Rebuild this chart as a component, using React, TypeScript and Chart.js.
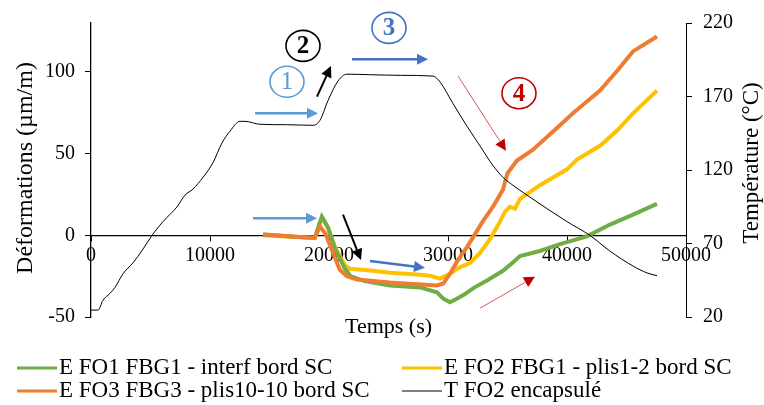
import React, { useEffect, useRef } from "react";
import { Chart, registerables } from "chart.js";

Chart.register(...registerables);

// ---------- data ----------
const seriesLabels = [
  "E FO1 FBG1 - interf bord SC",
  "E FO2 FBG1 - plis1-2 bord SC",
  "E FO3 FBG3 - plis10-10 bord SC",
  "T FO2 encapsulé",
];

const fo1Time = [14450, 16000, 17500, 18800, 19400, 19900, 20500, 21300, 21800, 23000, 25125, 27646, 29074, 29579, 30167, 30700, 31260, 32200, 33276, 34620, 35400, 36049, 37729, 39410, 41679, 43612, 45544, 47561];
const fo1Strain = [0.5, -0.3, -1.0, -1.5, 11.4, 5.0, -8.0, -20.0, -25.0, -28.0, -30.7, -31.9, -34.9, -38.6, -41.0, -39.0, -36.7, -32.0, -27.7, -21.7, -17.0, -12.7, -9.6, -5.4, -0.6, 6.6, 12.7, 19.3];

const fo2Time = [14450, 16000, 17500, 18800, 19400, 19900, 20500, 21300, 21764, 23500, 25125, 27394, 28486, 29326, 30167, 31000, 31847, 32688, 33528, 34368, 34788, 35209, 35629, 36049, 37729, 40000, 40838, 42771, 44200, 45544, 47561];
const fo2Strain = [0, -0.5, -1.2, -1.8, 11.0, 5.0, -7.0, -18.0, -20.5, -21.5, -22.9, -24.0, -24.7, -26.5, -23.5, -19.5, -16.9, -10.8, -2.4, 8.4, 14.5, 17.5, 16.3, 22.3, 30.7, 40.4, 46.4, 54.8, 64.0, 74.7, 88.6];

const fo3Time = [14450, 16000, 17500, 18800, 19250, 19700, 20300, 20900, 21500, 22350, 25100, 27400, 29074, 29600, 30167, 30800, 31595, 32940, 33780, 34620, 35000, 35797, 37141, 39158, 40502, 42771, 44200, 45544, 47561];
const fo3Strain = [0.5, -0.3, -1.0, -1.5, 5.4, 1.0, -10.0, -21.0, -25.0, -27.0, -28.9, -30.0, -30.7, -29.5, -23.5, -15.5, -7.2, 8.7, 17.5, 28.0, 38.0, 45.8, 52.4, 65.7, 74.7, 88.6, 100.6, 112.6, 121.7];

const tempTime = [0, 590, 1008, 1597, 2017, 2689, 3529, 4370, 5126, 6050, 7227, 7899, 8571, 9412, 10252, 11008, 11680, 12520, 12941, 14201, 16500, 18655, 19243, 19915, 20755, 21512, 23500, 26000, 28740, 29327, 30420, 31595, 32688, 33780, 34620, 35460, 36637, 39998, 41930, 43612, 45544, 46720, 47561];
const tempValues = [24.7, 24.7, 31.4, 36.1, 40.1, 49.4, 56.8, 66.2, 75.5, 84.9, 94.9, 102.9, 107.0, 115.0, 125.0, 138.4, 146.4, 153.1, 153.1, 151.1, 150.8, 150.4, 153.8, 167.2, 180.5, 185.2, 184.8, 184.4, 183.9, 179.9, 165.2, 149.8, 136.4, 123.0, 115.0, 109.6, 102.9, 84.9, 75.5, 64.8, 54.7, 50.0, 48.1];

const xTickValues = [0, 10000, 20000, 30000, 40000, 50000];
const strainTickValues = [-50, 0, 50, 100];
const tempTickValues = [20, 70, 120, 170, 220];

// annotations in data coordinates (time, strain)
const annotationArrows = [
  { from: [13781, 74.7], to: [19075, 74.7], color: "#5B9BD5", head: "#5B9BD5", width: 2.5 },
  { from: [13613, 10.5], to: [18991, 10.5], color: "#5B9BD5", head: "#5B9BD5", width: 2.5 },
  { from: [21932, 107.8], to: [28318, 107.8], color: "#4472C4", head: "#4472C4", width: 2.5 },
  { from: [23444, -15.7], to: [28066, -19.9], color: "#4472C4", head: "#4472C4", width: 2.5 },
  { from: [18991, 84.9], to: [20167, 103.6], color: "#000000", head: "#000000", width: 2 },
  { from: [21176, 12.7], to: [22688, -15.1], color: "#000000", head: "#000000", width: 2 },
  { from: [30839, 97.6], to: [34872, 51.8], color: "#D05A5A", head: "#C00000", width: 1 },
  { from: [32688, -44.6], to: [37309, -25.3], color: "#D05A5A", head: "#C00000", width: 1 },
];
const annotationCircles = [
  { at: [16470, 94.0], text: "1", color: "#5B9BD5", bold: false },
  { at: [17815, 116.0], text: "2", color: "#000000", bold: true },
  { at: [25041, 127.0], text: "3", color: "#4472C4", bold: true },
  { at: [35965, 87.0], text: "4", color: "#C00000", bold: true },
];

const seriesColors = ["#70AD47", "#FFC000", "#ED7D31", "#000000"];
const FONT = '"Liberation Serif", "Times New Roman", serif';

function toPoints(xs: number[], ys: number[]) {
  return xs.map((x, i) => ({ x, y: ys[i] }));
}

function drawArrow(ctx: CanvasRenderingContext2D, x1: number, y1: number, x2: number, y2: number, color: string, head: string, width: number) {
  const ang = Math.atan2(y2 - y1, x2 - x1);
  const headLen = 11;
  const headW = 5.5;
  const bx = x2 - headLen * Math.cos(ang);
  const by = y2 - headLen * Math.sin(ang);
  ctx.strokeStyle = color;
  ctx.lineWidth = width;
  ctx.beginPath();
  ctx.moveTo(x1, y1);
  ctx.lineTo(bx, by);
  ctx.stroke();
  ctx.fillStyle = head;
  ctx.beginPath();
  ctx.moveTo(x2, y2);
  ctx.lineTo(bx + headW * Math.sin(ang), by - headW * Math.cos(ang));
  ctx.lineTo(bx - headW * Math.sin(ang), by + headW * Math.cos(ang));
  ctx.closePath();
  ctx.fill();
}

const overlayPlugin = {
  id: "overlay",
  afterDraw(chart: any) {
    const { ctx, chartArea, scales } = chart;
    const xs = scales.x;
    const ys = scales.y;
    ctx.save();
    // arrows
    for (const a of annotationArrows) {
      drawArrow(
        ctx,
        xs.getPixelForValue(a.from[0]), ys.getPixelForValue(a.from[1]),
        xs.getPixelForValue(a.to[0]), ys.getPixelForValue(a.to[1]),
        a.color, a.head, a.width
      );
    }
    // circled numbers
    for (const c of annotationCircles) {
      const cx = xs.getPixelForValue(c.at[0]);
      const cy = ys.getPixelForValue(c.at[1]);
      ctx.strokeStyle = c.color;
      ctx.lineWidth = 1.6;
      ctx.beginPath();
      ctx.ellipse(cx, cy, 17, 15.5, 0, 0, Math.PI * 2);
      ctx.stroke();
      ctx.fillStyle = c.color;
      ctx.font = `${c.bold ? "bold " : ""}25px ${FONT}`;
      ctx.textAlign = "center";
      ctx.textBaseline = "middle";
      ctx.fillText(c.text, cx, cy + 1);
    }
    // axis titles
    ctx.fillStyle = "#000";
    ctx.textAlign = "center";
    ctx.textBaseline = "middle";
    ctx.font = `22px ${FONT}`;
    ctx.fillText("Temps (s)", (chartArea.left + chartArea.right) / 2, chartArea.bottom + 10);
    const midY = (chartArea.top + chartArea.bottom) / 2;
    ctx.save();
    ctx.translate(26, midY - 2);
    ctx.rotate(-Math.PI / 2);
    ctx.font = `24px ${FONT}`;
    ctx.fillText("Déformations (µm/m)", 0, 0);
    ctx.restore();
    ctx.save();
    ctx.translate(752, midY - 7);
    ctx.rotate(-Math.PI / 2);
    ctx.font = `23px ${FONT}`;
    ctx.fillText("Température (°C)", 0, 0);
    ctx.restore();
    // legend
    const cols = [17, 402];
    const rows = [chartArea.bottom + 51, chartArea.bottom + 74];
    ctx.font = `23px ${FONT}`;
    ctx.textAlign = "left";
    ctx.textBaseline = "middle";
    seriesLabels.forEach((label, i) => {
      const x = cols[i % 2];
      const y = rows[Math.floor(i / 2)];
      ctx.strokeStyle = seriesColors[i];
      ctx.lineWidth = i === 3 ? 1 : 3;
      ctx.beginPath();
      ctx.moveTo(x, y);
      ctx.lineTo(x + 40, y);
      ctx.stroke();
      ctx.fillStyle = "#000";
      ctx.fillText(label, x + 42, y);
    });
    ctx.restore();
  },
};

export default function App() {
  const canvasRef = useRef<HTMLCanvasElement | null>(null);

  useEffect(() => {
    document.body.style.margin = "0";
    const canvas = canvasRef.current;
    if (!canvas) return;
    const tickFont = { family: FONT, size: 20 };
    const chart = new Chart(canvas, {
      type: "line",
      data: {
        datasets: [
          { label: seriesLabels[0], data: toPoints(fo1Time, fo1Strain), borderColor: seriesColors[0], backgroundColor: seriesColors[0], borderWidth: 4, pointRadius: 0, yAxisID: "y", order: 2 },
          { label: seriesLabels[1], data: toPoints(fo2Time, fo2Strain), borderColor: seriesColors[1], backgroundColor: seriesColors[1], borderWidth: 4, pointRadius: 0, yAxisID: "y", order: 3 },
          { label: seriesLabels[2], data: toPoints(fo3Time, fo3Strain), borderColor: seriesColors[2], backgroundColor: seriesColors[2], borderWidth: 4, pointRadius: 0, yAxisID: "y", order: 1 },
          { label: seriesLabels[3], data: toPoints(tempTime, tempValues), borderColor: seriesColors[3], backgroundColor: seriesColors[3], borderWidth: 1, pointRadius: 0, yAxisID: "y1", order: 0, cubicInterpolationMode: "monotone" },
        ],
      },
      options: {
        responsive: false,
        animation: false,
        events: [],
        layout: { padding: { left: 0, right: 0, top: 14, bottom: 88 } },
        plugins: { legend: { display: false }, tooltip: { enabled: false } },
        scales: {
          x: {
            type: "linear",
            min: 0,
            max: 50000,
            position: { y: 0 } as any,
            afterBuildTicks: (s: any) => { s.ticks = xTickValues.map((v) => ({ value: v })); },
            ticks: { font: tickFont, color: "#000", padding: 3, maxRotation: 0, autoSkip: false, callback: (v: any) => String(v) },
            grid: { drawOnChartArea: false, color: "#000", tickLength: 5 },
            border: { color: "#000", width: 1.3 },
          },
          y: {
            type: "linear",
            position: "left",
            min: -50,
            max: 130,
            afterBuildTicks: (s: any) => { s.ticks = strainTickValues.map((v) => ({ value: v })); },
            afterFit: (s: any) => { s.width = 91; },
            ticks: { font: tickFont, color: "#000", padding: 10, callback: (v: any) => String(v) },
            grid: { drawOnChartArea: false, color: "#000", tickLength: 6 },
            border: { color: "#000", width: 1.3 },
          },
          y1: {
            type: "linear",
            position: "right",
            min: 20,
            max: 220,
            afterBuildTicks: (s: any) => { s.ticks = tempTickValues.map((v) => ({ value: v })); },
            afterFit: (s: any) => { s.width = 78; },
            ticks: { font: tickFont, color: "#000", padding: 11, callback: (v: any) => String(v) },
            grid: { drawOnChartArea: false, color: "#000", tickLength: 6 },
            border: { color: "#000", width: 1 },
          },
        },
      },
      plugins: [overlayPlugin],
    });
    return () => chart.destroy();
  }, []);

  return <canvas ref={canvasRef} width={764} height={405} style={{ display: "block" }} />;
}
